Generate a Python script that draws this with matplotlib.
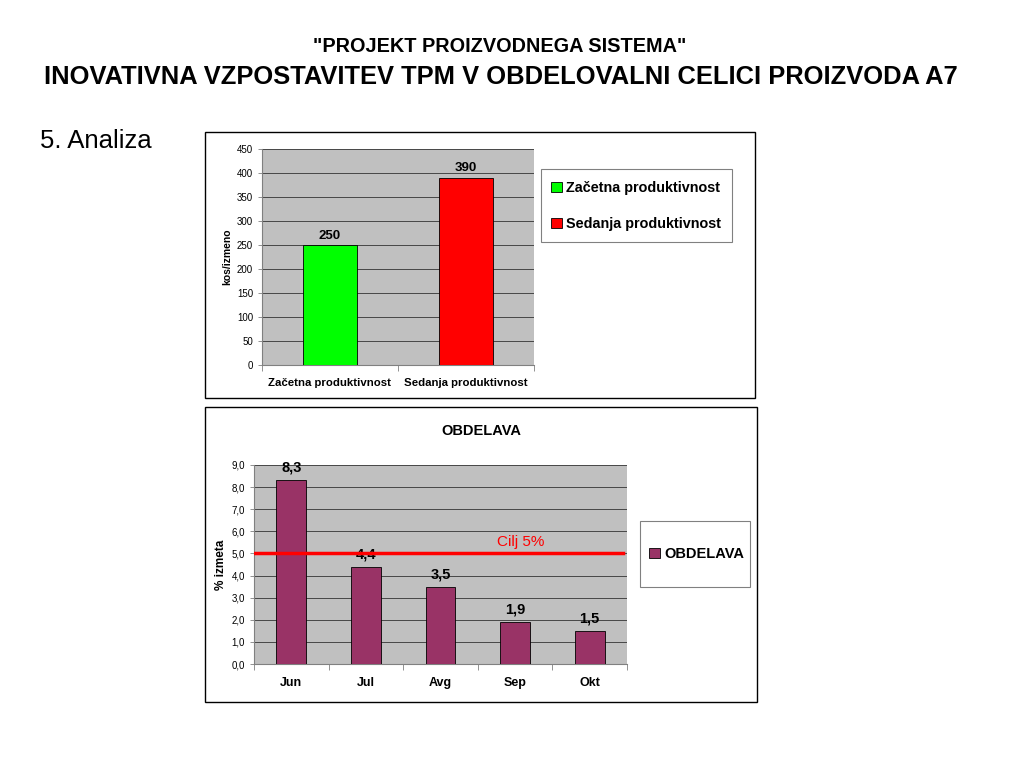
import matplotlib.pyplot as plt
from matplotlib.patches import Rectangle

plt.rcParams['font.family'] = ['Liberation Sans', 'DejaVu Sans']

# top chart data
prod_labels = ['Začetna produktivnost', 'Sedanja produktivnost']
prod_values = [250, 390]
prod_colors = ['#00ff00', '#ff0000']

# bottom chart data
months = ['Jun', 'Jul', 'Avg', 'Sep', 'Okt']
scrap = [8.3, 4.4, 3.5, 1.9, 1.5]
target = 5.0

W, H = 1024, 768


def fx(px):
    return px / W


def fy(py):
    return 1 - py / H


def frame(x0, y0, x1, y1, color='black', lw=1.0):
    fig.patches.append(Rectangle((fx(x0), fy(y1)), fx(x1) - fx(x0), fy(y0) - fy(y1),
                                 transform=fig.transFigure, fill=False,
                                 edgecolor=color, linewidth=lw))


def style_axes(ax, n):
    ax.set_facecolor('#c0c0c0')
    ax.set_xlim(-0.5, n - 0.5)
    ax.yaxis.grid(True, color='#333333', linewidth=0.6, zorder=0)
    ax.set_xticks(range(n))
    ax.set_xticks([i - 0.5 for i in range(n + 1)], minor=True)
    ax.tick_params(axis='x', which='major', length=0, pad=9)
    ax.tick_params(axis='x', which='minor', length=4, width=0.6, color='#808080')
    ax.tick_params(axis='y', labelsize=7, length=3, width=0.6, color='#808080')
    for s in ['top', 'right']:
        ax.spines[s].set_visible(False)
    ax.spines['left'].set_color('#808080')
    ax.spines['bottom'].set_color('#808080')


fig = plt.figure(figsize=(10.24, 7.68), dpi=100)
fig.patch.set_facecolor('white')

fig.text(fx(500), fy(47), '"PROJEKT PROIZVODNEGA SISTEMA"', ha='center', va='center',
         fontsize=14.3, fontweight='bold')
fig.text(fx(501), fy(77), 'INOVATIVNA VZPOSTAVITEV TPM V OBDELOVALNI CELICI PROIZVODA A7',
         ha='center', va='center', fontsize=18.4, fontweight='bold')
fig.text(fx(40), fy(141), '5. Analiza', ha='left', va='center', fontsize=18.5)

# panel frames
frame(205, 132, 755, 398)
frame(205, 407, 757, 702)

# ---- top chart
ax1 = fig.add_axes([fx(262), fy(365), fx(534) - fx(262), fy(149) - fy(365)])
style_axes(ax1, len(prod_values))
bars = ax1.bar(range(len(prod_values)), prod_values, width=0.4, color=prod_colors,
               edgecolor='black', linewidth=0.6, zorder=3)
ax1.set_ylim(0, 450)
ax1.set_yticks(range(0, 451, 50))
ax1.set_xticklabels(prod_labels, fontsize=8.2, fontweight='bold')
ax1.set_ylabel('kos/izmeno', fontsize=7.5, fontweight='bold', labelpad=3)
for b, v in zip(bars, prod_values):
    ax1.annotate(str(v), (b.get_x() + b.get_width() / 2, v), xytext=(0, 2.5),
                 textcoords='offset points', ha='center', va='bottom',
                 fontsize=9.5, fontweight='bold')
frame(541, 169, 732, 242, color='#808080', lw=0.8)
ax1.legend(bars, prod_labels, loc='center',
           bbox_to_anchor=(fx(636), fy(206)), bbox_transform=fig.transFigure,
           prop={'size': 10.4, 'weight': 'bold'}, frameon=False,
           handlelength=0.75, handleheight=0.75, handletextpad=0.3, labelspacing=1.5,
           borderpad=0)

# ---- bottom chart
ax2 = fig.add_axes([fx(254), fy(664), fx(627) - fx(254), fy(465) - fy(664)])
style_axes(ax2, len(scrap))
bars2 = ax2.bar(range(len(scrap)), scrap, width=0.4, color='#993366',
                edgecolor='black', linewidth=0.6, zorder=3, label='OBDELAVA')
ax2.set_ylim(0, 9)
ax2.set_yticks(range(0, 10))
ax2.set_yticklabels([f'{v:.1f}'.replace('.', ',') for v in range(0, 10)])
ax2.set_xticklabels(months, fontsize=9, fontweight='bold')
ax2.tick_params(axis='x', which='major', pad=16)
for lbl in ax2.get_xticklabels():
    lbl.set_verticalalignment('baseline')
ax2.set_ylabel('% izmeta', fontsize=8.5, fontweight='bold', labelpad=3)
for b, v in zip(bars2, scrap):
    ax2.annotate(f'{v:.1f}'.replace('.', ','), (b.get_x() + b.get_width() / 2, v),
                 xytext=(0, 4), textcoords='offset points', ha='center', va='bottom',
                 fontsize=10.5, fontweight='bold', zorder=4, annotation_clip=False)
ax2.axhline(target, xmin=0, xmax=0.99, color='#ff0000', linewidth=2.5, zorder=5)
ax2.annotate('Cilj 5%', (3.07, target), xytext=(0, 3.5), textcoords='offset points',
             color='#ff0000', fontsize=11, ha='center', va='bottom', zorder=5)
fig.text(fx(481), fy(431), 'OBDELAVA', ha='center', va='center',
         fontsize=10.5, fontweight='bold')
frame(640, 521, 750, 587, color='#808080', lw=0.8)
ax2.legend(loc='center', bbox_to_anchor=(fx(697), fy(554)), bbox_transform=fig.transFigure,
           prop={'size': 10.5, 'weight': 'bold'}, frameon=False,
           handlelength=0.75, handleheight=0.75, handletextpad=0.3, borderpad=0)

fig.savefig('out.png', dpi=100)
